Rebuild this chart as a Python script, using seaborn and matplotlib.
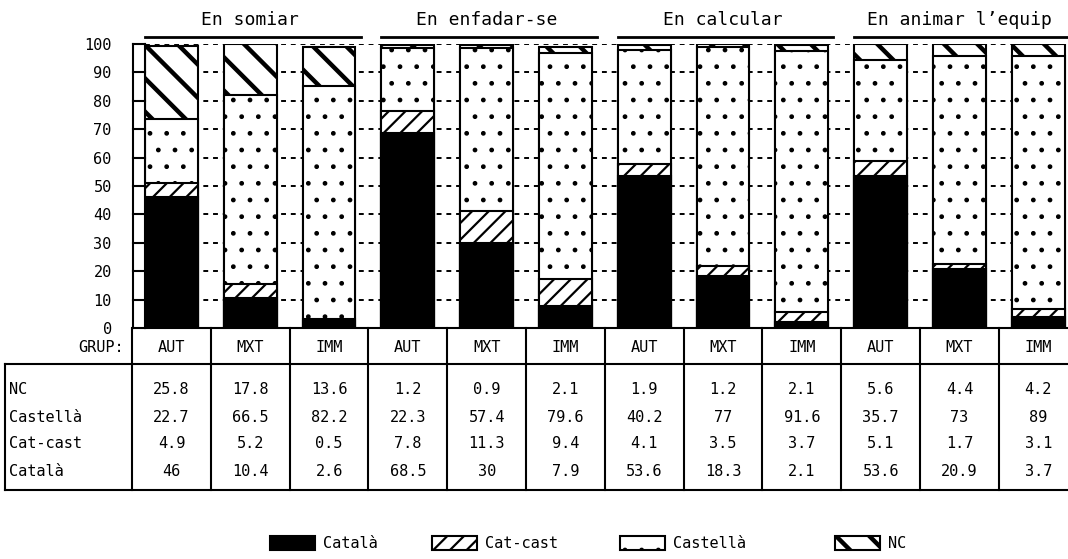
import matplotlib
matplotlib.use("Agg")
import pandas as pd
import matplotlib.pyplot as plt
import matplotlib.transforms as mtransforms
from matplotlib.lines import Line2D
from matplotlib.patches import Rectangle
import seaborn as sns

groups = ["En somiar", "En enfadar-se", "En calcular", "En animar l’equip"]
grups = ["AUT", "MXT", "IMM"]
row_names = ["NC", "Castellà", "Cat-cast", "Català"]

nc = [25.8, 17.8, 13.6, 1.2, 0.9, 2.1, 1.9, 1.2, 2.1, 5.6, 4.4, 4.2]
castella = [22.7, 66.5, 82.2, 22.3, 57.4, 79.6, 40.2, 77, 91.6, 35.7, 73, 89]
catcast = [4.9, 5.2, 0.5, 7.8, 11.3, 9.4, 4.1, 3.5, 3.7, 5.1, 1.7, 3.1]
catala = [46, 10.4, 2.6, 68.5, 30, 7.9, 53.6, 18.3, 2.1, 53.6, 20.9, 3.7]

#%%

plt.rcParams["font.family"] = ["DejaVu Sans Mono", "DejaVu Sans"]
plt.rcParams["hatch.color"] = "black"
plt.rcParams["hatch.linewidth"] = 1.5

bar_ids = [f"{g} / {s}" for g in groups for s in grups]
df = pd.DataFrame({"bar": bar_ids, "NC": nc, "Castellà": castella,
                   "Cat-cast": catcast, "Català": catala})

# stacking from the bottom: Català, Cat-cast, Castellà, NC
stack = ["Català", "Cat-cast", "Castellà", "NC"]
df[stack] = df[stack].astype(float)
cum = df[stack].cumsum(axis=1)

styles = {
    "NC": dict(color="white", hatch="\\", hlw=3.2),
    "Castellà": dict(color="white", hatch=".", hlw=1.0),
    "Cat-cast": dict(color="white", hatch="//", hlw=1.6),
    "Català": dict(color="black", hatch=None, hlw=1.0),
}


def style_patch(p, st):
    if st["hatch"]:
        p.set_hatch(st["hatch"])
        if hasattr(p, "set_hatch_linewidth"):
            p.set_hatch_linewidth(st["hlw"])


W, H = 1068, 559
fig = plt.figure(figsize=(W / 100, H / 100), dpi=100)
px = mtransforms.Affine2D().scale(1 / W, -1 / H).translate(0, 1) + fig.transFigure

ax = fig.add_axes([145 / W, 1 - 328 / H, (W - 145) / W, (328 - 44) / H])

# draw the tallest layer first, lower layers cover it
for cat in reversed(stack):
    st = styles[cat]
    n0 = len(ax.patches)
    sns.barplot(x=df["bar"], y=cum[cat], order=bar_ids, color=st["color"],
                saturation=1, edgecolor="black", linewidth=1.5, width=0.67,
                errorbar=None, ax=ax)
    for p in ax.patches[n0:]:
        style_patch(p, st)

ax.set_xlim(-0.336, 11.377)
ax.set_ylim(0, 100)
ax.set_xticks([])
ax.set_xlabel("")
ax.set_ylabel("")
ax.set_yticks(range(0, 101, 10))
ax.tick_params(axis="y", length=0, pad=24, labelsize=11)
ax.set_axisbelow(True)
ax.yaxis.grid(True, color="black", linestyle=(0, (2.5, 2.5)), linewidth=1.4)
for s in ["top", "right"]:
    ax.spines[s].set_visible(False)
ax.spines["left"].set_linewidth(1.5)
ax.spines["bottom"].set_linewidth(1.5)

bx = mtransforms.blended_transform_factory(ax.transData, px)
ry = mtransforms.blended_transform_factory(px, ax.transData)


def line(xs, ys, tr, lw=1.5):
    fig.add_artist(Line2D(xs, ys, transform=tr, color="black", lw=lw))


# ruler left of the plot
line([133, 133], [0, 100], ry)
for t in range(0, 101, 10):
    line([133, 145], [t, t], ry)

# group titles with underline
for g, title in enumerate(groups):
    fig.text(3 * g + 1, 20, title, transform=bx, ha="center", va="center",
             fontsize=13)
    line([3 * g - 0.336, 3 * g + 2.4], [37, 37], bx, lw=2)

#%%

# table under the bars
line([5, W], [364, 364], px)
line([5, W], [490, 490], px)
line([5, 5], [364, 490], px)
for i in range(12):
    line([i - 0.5, i - 0.5], [328, 490], bx)

fig.text(124, 347, "GRUP:", transform=px, ha="right", va="center", fontsize=11)
for i, b in enumerate(bar_ids):
    fig.text(i, 347, grups[i % 3], transform=bx, ha="center", va="center",
             fontsize=11)

row_y = [390, 417, 444, 471]
for name, y in zip(row_names, row_y):
    fig.text(9, y, name, transform=px, ha="left", va="center", fontsize=11)
    for i, v in enumerate(df[name]):
        fig.text(i, y, f"{v:g}", transform=bx, ha="center", va="center",
                 fontsize=11)

# legend along the bottom
leg_x = [270, 432, 620, 835]
for cat, x in zip(stack, leg_x):
    st = styles[cat]
    r = Rectangle((x, 536), 45, 14, transform=px, facecolor=st["color"],
                  edgecolor="black", linewidth=1.5)
    style_patch(r, st)
    fig.add_artist(r)
    fig.text(x + 53, 543, cat, transform=px, ha="left", va="center",
             fontsize=11)

fig.savefig("out.png", dpi=100)
